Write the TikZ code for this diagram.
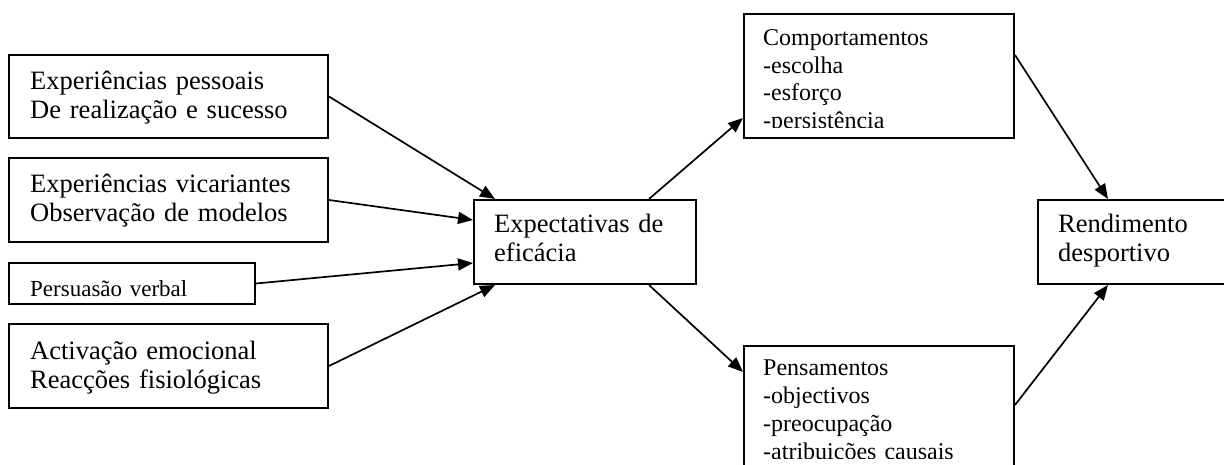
\documentclass[tikz,border=0pt]{standalone}
\usepackage{fontspec}
\setmainfont{Liberation Serif}
\usetikzlibrary{arrows.meta}
\tikzset{
  caixa/.style={draw,line width=2pt,rectangle,anchor=north west,inner sep=0pt},
  texto/.style={anchor=base west,inner sep=0pt,text width=#1,align=left,font=\fontsize{26.5}{29}\selectfont},
  lista/.style={anchor=base west,inner sep=0pt,text width=#1,align=left,font=\fontsize{24}{27.5}\selectfont},
  seta/.style={line width=1.7pt,-{Triangle[length=15pt,width=12pt]}}
}
\begin{document}
\begin{tikzpicture}[x=1pt,y=-1pt]
\useasboundingbox (0,0) rectangle (1224,465);
% caixas da esquerda
\node[caixa,minimum width=319pt,minimum height=83pt] (pessoal) at (8,54) {};
\node[caixa,minimum width=319pt,minimum height=84pt] (vicar) at (8,157) {};
\node[caixa,minimum width=246pt,minimum height=41pt] (persu) at (8,262) {};
\node[caixa,minimum width=319pt,minimum height=84pt] (activ) at (8,323) {};
\node[texto=300pt] (tpessoal) at ([shift={(22,36)}]pessoal.north west) {Experiências pessoais\\De realização e sucesso};
\node[texto=300pt] (tvicar) at ([shift={(22,36)}]vicar.north west) {Experiências vicariantes\\Observação de modelos};
\node[texto=300pt] (tactiv) at ([shift={(22,36)}]activ.north west) {Activação emocional\\Reacções fisiológicas};
\begin{scope}
\clip (persu.north west) rectangle ([shift={(0,-8)}]persu.south east);
\node[lista=220pt,font=\fontsize{23}{27}\selectfont] (tpersu) at ([shift={(22,35)}]persu.north west) {Persuasão verbal};
\end{scope}
% centro
\node[caixa,minimum width=222pt,minimum height=84pt] (expect) at (473,199) {};
\node[texto=200pt] (texpect) at ([shift={(21,34)}]expect.north west) {Expectativas de\\eficácia};
% caixas da direita
\node[caixa,minimum width=270pt,minimum height=124pt] (comport) at (743,13) {};
\node[caixa,minimum width=270pt,minimum height=140pt] (pensam) at (743,345) {};
\node[caixa,minimum width=190pt,minimum height=84pt] (rend) at (1037,199) {};
\node[texto=160pt] (trend) at ([shift={(21,34)}]rend.north west) {Rendimento\\desportivo};
\begin{scope}
\clip (comport.north west) rectangle ([shift={(0,-11)}]comport.south east);
\node[lista=240pt] (tcomport) at ([shift={(20,33)}]comport.north west) {Comportamentos\\-escolha\\-esforço\\-persistência};
\end{scope}
\begin{scope}
\clip (pensam.north west) rectangle ([shift={(0,113)}]pensam.north east);
\node[lista=240pt,font=\fontsize{24}{28}\selectfont] (tpensam) at ([shift={(20,30)}]pensam.north west) {Pensamentos\\-objectivos\\-preocupação\\-atribuições causais};
\end{scope}
% setas
\draw[seta] (pessoal.east) -- ([xshift=22pt]expect.north west);
\draw[seta] (vicar.east) -- ([yshift=22pt]expect.west);
\draw[seta] (persu.east) -- ([yshift=-21pt]expect.west);
\draw[seta] (activ.east) -- ([xshift=22pt]expect.south west);
\draw[seta] ([xshift=-48pt]expect.north east) -- ([yshift=-42pt]comport.west);
\draw[seta] ([xshift=-48pt]expect.south east) -- ([yshift=-27pt]pensam.north west);
\draw[seta] ([yshift=-42pt]comport.north east) -- ([xshift=71pt]rend.north west);
\draw[seta] ([yshift=-60pt]pensam.north east) -- ([xshift=71pt]rend.south west);
\end{tikzpicture}
\end{document}
